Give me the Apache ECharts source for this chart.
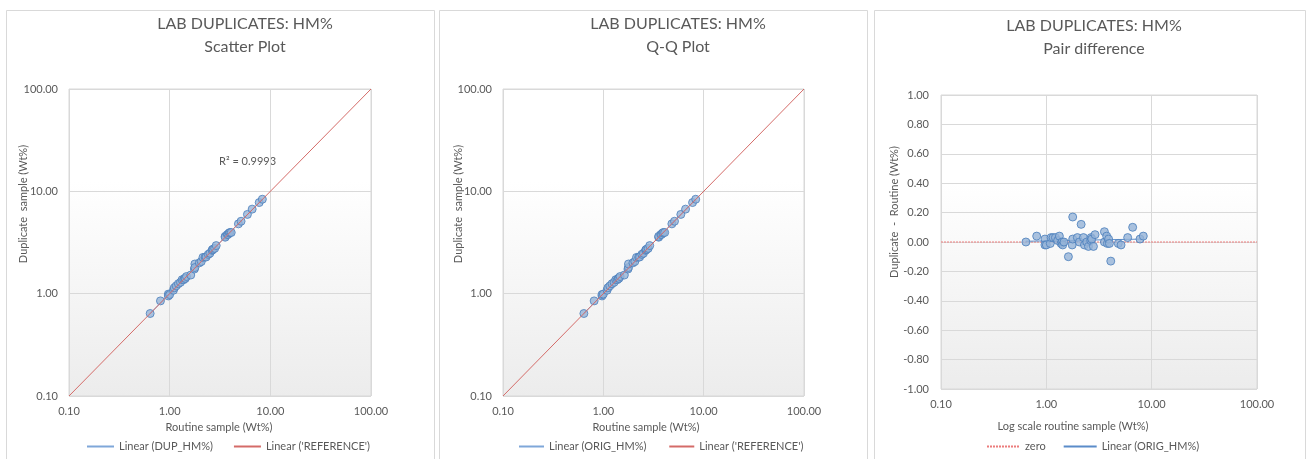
<!DOCTYPE html>
<html>
<head>
<meta charset="utf-8">
<script src="https://cdn.jsdelivr.net/npm/echarts@6/dist/echarts.min.js"></script>
<style>
html,body{margin:0;padding:0;background:#fff;}
#c{width:1307px;height:459px;}
</style>
</head>
<body>
<div id="c"></div>
<script>
// ---- data ----
const routine   = [0.64,0.81,0.97,0.97,1.00,1.09,1.11,1.16,1.22,1.28,1.33,1.38,1.41,1.43,1.47,1.62,1.76,1.78,1.78,1.97,2.06,2.14,2.25,2.30,2.42,2.51,2.64,2.66,2.70,2.80,2.90,3.56,3.56,3.74,3.80,3.90,3.97,4.09,4.82,5.12,5.92,6.60,7.75,8.33];
const duplicate = [0.64,0.85,0.99,0.95,0.98,1.08,1.14,1.19,1.25,1.29,1.37,1.37,1.41,1.41,1.47,1.52,1.74,1.95,1.80,2.00,2.06,2.26,2.28,2.28,2.42,2.48,2.65,2.69,2.72,2.77,2.95,3.63,3.56,3.78,3.79,3.92,3.96,3.96,4.81,5.10,5.95,6.70,7.77,8.37];
const referenceLine = [0.1, 100];          // 1:1 reference
const dupTrend  = [[0.64,0.64],[8.37,8.40]]; // Linear (DUP_HM%)
const qqTrend   = [[0.64,0.64],[8.33,8.37]]; // Linear (ORIG_HM%) Q-Q
const diffTrend = [[0.64,0.005],[8.33,0.02]]; // Linear (ORIG_HM%) difference
const zeroLine  = [[0.1,0],[100,0]];
const r2Text = 'R\u00B2 = 0.9993';

const scatterPts = routine.map((r,i)=>[r, duplicate[i]]);
const rs = routine.slice().sort((a,b)=>a-b), ds = duplicate.slice().sort((a,b)=>a-b);
const qqPts = rs.map((r,i)=>[r, ds[i]]);
const diffPts = routine.map((r,i)=>[r, +(duplicate[i]-r).toFixed(3)]);

const TXT = '#595959', GRID = '#d9d9d9', FONT = 'Lato';
const RED = '#d46b68', BLUE = '#7fa7d9', PINK = '#ec7c7c';
const bg = {type:'linear',x:0,y:0,x2:0,y2:1,colorStops:[{offset:0,color:'#ffffff'},{offset:0.3,color:'#ffffff'},{offset:1,color:'#ececec'}]};
const marker = {color:'#95b3d7', borderColor:'#4a7ebb', borderWidth:1};

function logAxis(gi, isY){
  return {type:'log', logBase:10, min:0.1, max:100, gridIndex:gi,
    axisLine:{show:false}, axisTick:{show:false},
    splitLine:{show:true, lineStyle:{color:GRID, width:1}},
    axisLabel:{color:TXT, fontSize:11, fontFamily:FONT, margin: isY?11:10,
      formatter:v=>Number(v).toFixed(2)}};
}
function txt(x,y,text,size){
  return {type:'text', x:x, y:y, silent:true,
    style:{text:text, fill:TXT, font: size+'px '+FONT, textAlign:'center', align:'center', textVerticalAlign:'middle', verticalAlign:'middle'}};
}
function vtxt(x,y,text){
  return {type:'text', x:x, y:y, rotation:Math.PI/2, silent:true,
    style:{text:text, fill:TXT, font:'11px '+FONT, textAlign:'center', align:'center', textVerticalAlign:'middle', verticalAlign:'middle'}};
}
function panel(x,w){
  return {type:'rect', silent:true, shape:{x:x+0.5,y:10.5,width:w,height:470}, style:{fill:'none', stroke:GRID, lineWidth:1}};
}
const legendBase = {itemHeight:10, textStyle:{color:TXT, fontSize:11, fontFamily:FONT}, selectedMode:false, itemStyle:{opacity:0}};

const option = {
  animation:false,
  backgroundColor:'#fff',
  grid:[
    {left:69, top:89, width:302, height:307, show:true, backgroundColor:bg, borderColor:GRID, borderWidth:1},
    {left:503, top:89, width:301, height:307, show:true, backgroundColor:bg, borderColor:GRID, borderWidth:1},
    {left:941, top:95, width:316, height:294, show:true, backgroundColor:bg, borderColor:GRID, borderWidth:1}
  ],
  xAxis:[logAxis(0,false), logAxis(1,false), logAxis(2,false)],
  yAxis:[logAxis(0,true), logAxis(1,true),
    {type:'value', min:-1, max:1, interval:0.2, gridIndex:2,
     axisLine:{show:false}, axisTick:{show:false},
     splitLine:{show:true, lineStyle:{color:GRID}},
     axisLabel:{color:TXT, fontSize:11, fontFamily:FONT, margin:12, formatter:v=>Number(v).toFixed(2)}}],
  legend:[
    Object.assign({data:['Linear (DUP_HM%)',"Linear ('REFERENCE')"], left:81, top:436, itemWidth:27, itemGap:20}, legendBase),
    Object.assign({data:['Linear (ORIG_HM%) ',"Linear ('REFERENCE') "], left:513, top:436, itemWidth:25, itemGap:19}, legendBase),
    Object.assign({data:['zero','Linear (ORIG_HM%)'], left:981, top:436, itemWidth:33, itemGap:17}, legendBase)
  ],
  series:[
    {name:'DUP_HM%', type:'scatter', xAxisIndex:0, yAxisIndex:0, data:scatterPts, symbolSize:8, itemStyle:marker, z:3},
    {name:'Linear (DUP_HM%)', type:'line', xAxisIndex:0, yAxisIndex:0, data:dupTrend, symbol:'none', lineStyle:{color:BLUE, width:1}, itemStyle:{color:BLUE}, z:4},
    {name:"Linear ('REFERENCE')", type:'line', xAxisIndex:0, yAxisIndex:0, data:referenceLine.map(v=>[v,v]), symbol:'none', lineStyle:{color:RED, width:1}, itemStyle:{color:RED}, z:5},

    {name:'ORIG_HM%', type:'scatter', xAxisIndex:1, yAxisIndex:1, data:qqPts, symbolSize:8, itemStyle:marker, z:3},
    {name:'Linear (ORIG_HM%) ', type:'line', xAxisIndex:1, yAxisIndex:1, data:qqTrend, symbol:'none', lineStyle:{color:BLUE, width:1}, itemStyle:{color:BLUE}, z:4},
    {name:"Linear ('REFERENCE') ", type:'line', xAxisIndex:1, yAxisIndex:1, data:referenceLine.map(v=>[v,v]), symbol:'none', lineStyle:{color:RED, width:1}, itemStyle:{color:RED}, z:5},

    {name:'zero', type:'line', xAxisIndex:2, yAxisIndex:2, data:zeroLine, symbol:'none', lineStyle:{color:PINK, width:1, type:[2,1]}, itemStyle:{color:PINK}, z:2},
    {name:'Linear (ORIG_HM%)', type:'line', xAxisIndex:2, yAxisIndex:2, data:diffTrend, symbol:'none', lineStyle:{color:'#5b8cc9', width:1}, itemStyle:{color:BLUE}, z:3},
    {name:'diff', type:'scatter', xAxisIndex:2, yAxisIndex:2, data:diffPts, symbolSize:8, itemStyle:marker, z:4}
  ],
  graphic:[
    panel(6,428), panel(439,428), panel(874,431),
    txt(245,24,'LAB DUPLICATES: HM%',16), txt(245,47,'Scatter Plot',16),
    txt(678,24,'LAB DUPLICATES: HM%',16), txt(678,47,'Q-Q Plot',16),
    txt(1094,26,'LAB DUPLICATES: HM%',16), txt(1094,49,'Pair difference',16),
    txt(219,427,'Routine sample (Wt%)',11), txt(646,427,'Routine sample (Wt%)',11),
    txt(1073,426,'Log scale routine sample (Wt%)',11),
    vtxt(23,204,'Duplicate  sample (Wt%)'), vtxt(458,204,'Duplicate  sample (Wt%)'),
    vtxt(894,212,'Duplicate  -  Routine (Wt%)'),
    {type:'text', x:219, y:161, silent:true, style:{text:r2Text, fill:TXT, font:'11px '+FONT, textAlign:'left', align:'left', textVerticalAlign:'middle', verticalAlign:'middle'}}
  ]
};
const chart = echarts.init(document.getElementById('c'), null, {renderer:'canvas'});
chart.setOption(option);
</script>
</body>
</html>
